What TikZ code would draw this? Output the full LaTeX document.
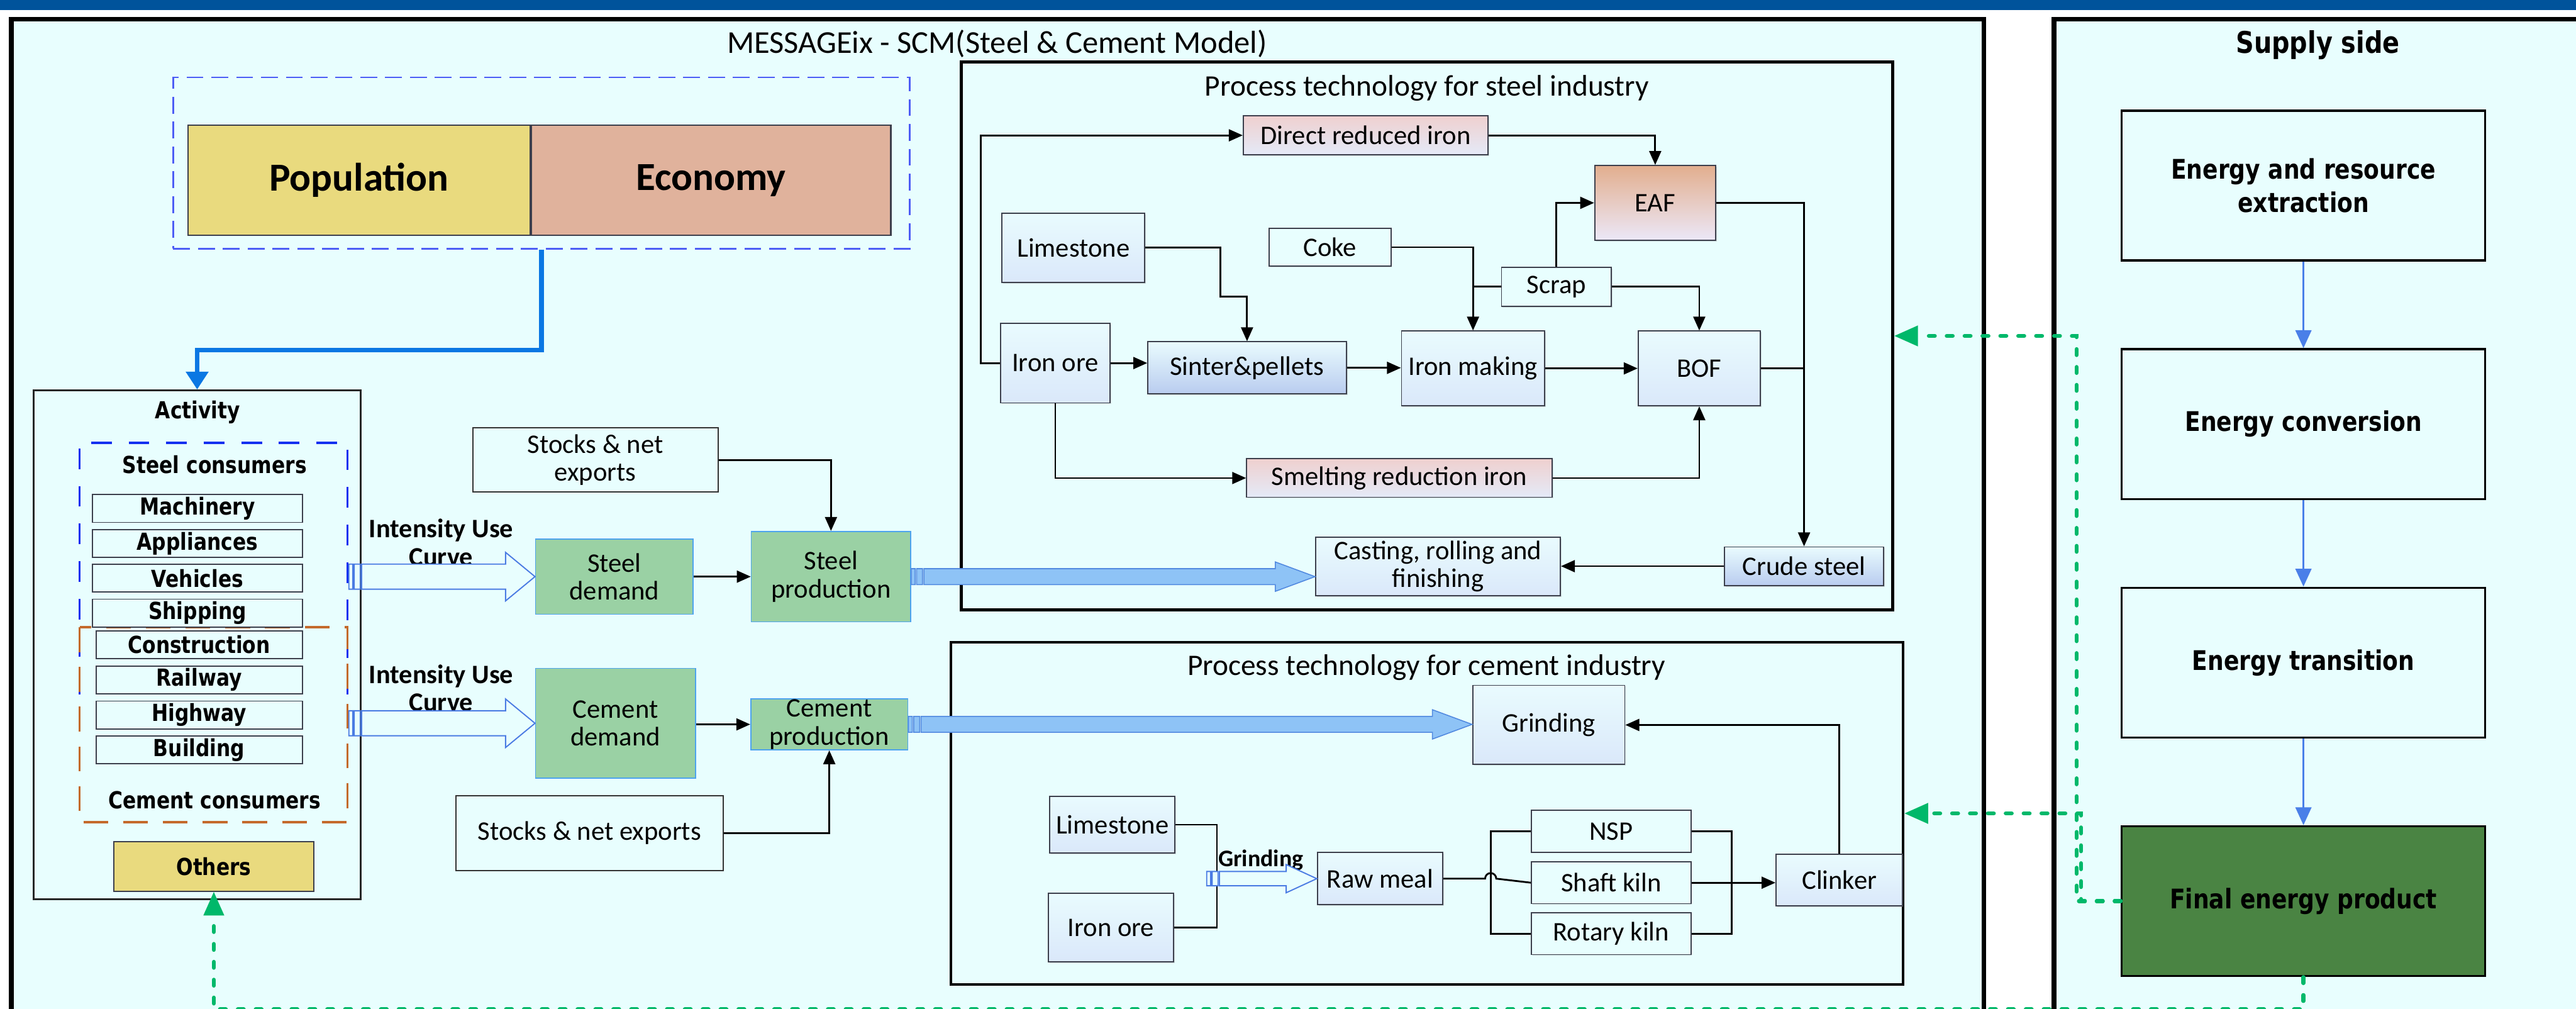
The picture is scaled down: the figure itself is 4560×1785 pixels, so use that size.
\documentclass[tikz,border=0pt]{standalone}
\usepackage{fontspec}
\setmainfont{Carlito}
\newfontfamily\wideface[FakeStretch=0.84]{DejaVu Sans}
\usetikzlibrary{arrows.meta,calc,chains,positioning,scopes,shadows}

\definecolor{panelfill}{HTML}{E8FEFE}
\definecolor{bandblue}{HTML}{00539B}
\definecolor{popyellow}{HTML}{E9DA7E}
\definecolor{econsalmon}{HTML}{E0B29C}
\definecolor{demandgreen}{HTML}{9AD1A4}
\definecolor{demandedge}{HTML}{4DA3EE}
\definecolor{flowblue}{HTML}{8EC3F6}
\definecolor{flowedge}{HTML}{5189E0}
\definecolor{hollowedge}{HTML}{4A7BE3}
\definecolor{finalgreen}{HTML}{4A8443}
\definecolor{feedgreen}{HTML}{00B86A}
\definecolor{popblue}{HTML}{0B77E3}
\definecolor{supplyblue}{HTML}{4A7FE8}
\definecolor{frameblue}{HTML}{4D5DF5}
\definecolor{consumerblue}{HTML}{1530F0}
\definecolor{consumerorange}{HTML}{C46A2C}
\definecolor{procedge}{HTML}{3C3F4C}
\definecolor{procA}{HTML}{E9FBFE}
\definecolor{procB}{HTML}{DAE8FA}
\definecolor{sinterB}{HTML}{B9CCEF}
\definecolor{roseA}{HTML}{EFD0CF}
\definecolor{roseB}{HTML}{E4EAF8}
\definecolor{eafA}{HTML}{E2AE8E}
\definecolor{eafB}{HTML}{ECE8F8}

\tikzset{
    panel/.style = {
        draw,
        line width = 2.3pt,
        fill = panelfill,
        },
    process frame/.style = {
        draw,
        line width = 1.4pt,
        },
    frame title/.style = {
        font = \fontsize{15}{17}\selectfont,
        },
    proc base/.style = {
        draw = procedge,
        line width = 0.6pt,
        drop shadow = {shadow xshift=0.6pt, shadow yshift=-0.6pt, opacity=0.25},
        font = \fontsize{13.5}{14}\selectfont,
        align = center,
        inner sep = 1pt,
        },
    proc/.style = {
        proc base,
        top color = procA,
        bottom color = procB,
        },
    plain proc/.style = {
        proc base,
        fill = panelfill,
        },
    sinter proc/.style = {
        proc base,
        top color = procA,
        bottom color = sinterB,
        },
    rose proc/.style = {
        proc base,
        top color = roseA,
        bottom color = roseB,
        },
    eaf proc/.style = {
        proc base,
        top color = eafA,
        bottom color = eafB,
        },
    driver/.style = {
        draw = procedge,
        line width = 0.7pt,
        minimum height = 1.94cm,
        font = \bfseries\fontsize{20}{24}\selectfont,
        },
    pe frame/.style = {
        draw = frameblue,
        line width = 0.9pt,
        dash pattern = on 8.5pt off 4pt,
        },
    activity box/.style = {
        draw = black!85,
        line width = 0.8pt,
        },
    consumer label/.style = {
        font = \wideface\bfseries\fontsize{11.8}{13}\selectfont,
        },
    consumer blue/.style = {
        draw = consumerblue,
        line width = 1.1pt,
        dash pattern = on 10.4pt off 8.5pt,
        },
    consumer orange/.style = {
        draw = consumerorange,
        line width = 1.1pt,
        dash pattern = on 12.5pt off 7.5pt,
        },
    item/.style = {
        draw = procedge,
        line width = 0.6pt,
        fill = panelfill,
        minimum height = 0.49cm,
        inner sep = 0pt,
        font = \wideface\bfseries\fontsize{11.8}{13}\selectfont,
        },
    demand/.style = {
        draw = demandedge,
        line width = 0.5pt,
        fill = demandgreen,
        align = center,
        inner sep = 0pt,
        font = \fontsize{13.5}{14}\selectfont,
        },
    stock/.style = {
        draw = black!80,
        line width = 0.7pt,
        fill = panelfill,
        align = center,
        font = \fontsize{13.5}{14}\selectfont,
        },
    intensity label/.style = {
        align = center,
        font = \bfseries\fontsize{13.4}{14}\selectfont,
        },
    supply/.style = {
        draw,
        line width = 1.1pt,
        fill = panelfill,
        minimum width = 6.43cm,
        minimum height = 2.65cm,
        align = center,
        font = \wideface\bfseries\fontsize{13.6}{16.8}\selectfont,
        },
    flow/.style = {
        draw,
        line width = 0.9pt,
        -{Triangle[length=7pt, width=6pt]},
        },
    link/.style = {
        draw,
        line width = 0.9pt,
        },
    pop link/.style = {
        draw = popblue,
        line width = 2.3pt,
        -{Triangle[length=9pt, width=11pt]},
        },
    supply link/.style = {
        draw = supplyblue,
        line width = 1pt,
        -{Triangle[length=9pt, width=8pt]},
        },
    feedback/.style = {
        draw = feedgreen,
        line width = 2pt,
        line cap = round,
        dash pattern = on 3pt off 6pt,
        -{Triangle[length=12pt, width=10pt]},
        },
    fat arrow/.style n args = {3}{
        to path = {
            let \p1 = (\tikztostart), \p2 = (\tikztotarget) in
            (\x1, \y1 - #1) rectangle ++(2pt, 2*#1)
            (\x1 + 2.7pt, \y1 - #1) rectangle ++(3pt, 2*#1)
            (\x1 + 6.4pt, \y1 + #1) -- (\x2 - #3, \y1 + #1) -- (\x2 - #3, \y1 + #2)
            -- (\x2, \y1) -- (\x2 - #3, \y1 - #2) -- (\x2 - #3, \y1 - #1)
            -- (\x1 + 6.4pt, \y1 - #1) -- cycle
            },
        },
    fat flow/.style = {
        fat arrow = {4pt}{7.4pt}{20pt},
        fill = flowblue,
        draw = flowedge,
        line width = 0.5pt,
        },
    hollow flow/.style = {
        fat arrow = {6.3pt}{12.2pt}{14.8pt},
        fill = panelfill,
        draw = hollowedge,
        line width = 0.6pt,
        },
    small hollow/.style = {
        fat arrow = {3.6pt}{7.1pt}{15.4pt},
        fill = panelfill,
        draw = hollowedge,
        line width = 0.6pt,
        },
}

\begin{document}
\begin{tikzpicture}[
        x = 0.01cm,
        y = -0.01cm,
        ItemBlock/.style = {item, on chain},
        SupplyBlock/.style = {supply, on chain},
    ]
    \useasboundingbox (0,0) rectangle (4560,1785);
    \clip (0,0) rectangle (4560,1785);
    \fill[white] (0,0) rectangle (4560,1785);
    \fill[bandblue] (0,0) rectangle (4560,18);

    \draw[panel] (20,34) rectangle (3512,1900);
    \draw[panel] (3636,34) rectangle (4620,1900);
    \node[font=\fontsize{16}{18}\selectfont] (modeltitle) at (1765,77) {MESSAGEix - SCM(Steel \& Cement Model)};
    \node[font=\wideface\bfseries\fontsize{15}{17}\selectfont] (supplytitle) at (4103,80) {Supply side};

    % drivers
    \node[pe frame, minimum width=13.03cm, minimum height=3.03cm] (peframe) at (958.5,288.5) {};
    \node[driver, fill=popyellow, minimum width=6.05cm] (population) at (635.5,319) {Population};
    \node[driver, fill=econsalmon, minimum width=6.36cm, right=0pt of population] (economy) {Economy};

    % activity
    \node[activity box, minimum width=5.78cm, minimum height=9cm] (actbox) at (349,1141) {};
    \node[consumer label] (activity) at (350,730) {Activity};
    \draw[consumer blue] (141,1229) |- (615,784) -- (615,1229);
    \draw[consumer orange] (141,1110) rectangle (615,1455);
    \node[consumer label] (steelcons) at (380,822) {Steel consumers};
    \node[consumer label] (cementcons) at (380,1416) {Cement consumers};
    { [start chain = going below, node distance = 0.105cm]
        \node[ItemBlock, minimum width=3.71cm] (machinery) at (349.5,900) {Machinery};
        \node[ItemBlock, minimum width=3.71cm] (appliances) {Appliances};
        \node[ItemBlock, minimum width=3.71cm] (vehicles) {Vehicles};
        \node[ItemBlock, minimum width=3.71cm] (shipping) {Shipping};
    }
    { [start chain = going below, node distance = 0.11cm]
        \node[ItemBlock, minimum width=3.65cm] (construction) at (352.5,1141) {Construction};
        \node[ItemBlock, minimum width=3.65cm] (railway) {Railway};
        \node[ItemBlock, minimum width=3.65cm] (highway) {Highway};
        \node[ItemBlock, minimum width=3.65cm] (building) {Building};
    }
    \node[item, fill=popyellow, minimum width=3.53cm, minimum height=0.87cm] (others) at (378.5,1533.5) {Others};

    % demand and production
    \node[demand, minimum width=2.79cm, minimum height=1.33cm] (steeldem) at (1087.5,1020.5) {Steel\\demand};
    \node[demand, minimum width=2.82cm, minimum height=1.6cm, right=1.01cm of steeldem] (steelprod) {Steel\\production};
    \node[stock, minimum width=4.34cm, minimum height=1.04cm] (stocksteel) at (1054,814) {Stocks \& net\\exports};
    \node[demand, minimum width=2.83cm, minimum height=1.94cm] (cementdem) at (1089.5,1280) {Cement\\demand};
    \node[demand, minimum width=2.78cm, minimum height=0.9cm] (cementprod) at (1468,1282) {Cement\\production};
    \node[stock, minimum width=4.73cm, minimum height=1.33cm] (stockcement) at (1043.5,1474.5) {Stocks \& net exports};
    \node[intensity label] (iucsteel) at (781,960) {Intensity Use\\Curve};
    \node[intensity label] (iuccement) at (781,1218) {Intensity Use\\Curve};

    % steel industry
    \node[process frame, minimum width=16.48cm, minimum height=9.69cm] (steelframe) at (2526,594.5) {};
    \node[frame title] (steeltitle) at (2526,156) {Process technology for steel industry};
    \node[rose proc, minimum width=4.33cm, minimum height=0.69cm] (dri) at (2417.5,239.5) {Direct reduced iron};
    \node[eaf proc, minimum width=2.14cm, minimum height=1.32cm] (eaf) at (2930,359) {EAF};
    \node[proc, minimum width=2.52cm, minimum height=1.23cm] (limestone) at (1900,438.5) {Limestone};
    \node[plain proc, minimum width=2.15cm, minimum height=0.67cm] (coke) at (2354.5,437.5) {Coke};
    \node[plain proc, minimum width=1.94cm, minimum height=0.69cm] (scrap) at (2755,507.5) {Scrap};
    \node[proc, minimum width=1.94cm, minimum height=1.41cm] (ironore) at (1868,642.5) {Iron ore};
    \node[sinter proc, minimum width=3.51cm, minimum height=0.92cm] (sinter) at (2207.5,651) {Sinter\&pellets};
    \node[proc, minimum width=2.53cm, minimum height=1.32cm] (ironmaking) at (2607.5,652) {Iron making};
    \node[proc, minimum width=2.16cm, minimum height=1.32cm] (bof) at (3008,652) {BOF};
    \node[rose proc, minimum width=5.4cm, minimum height=0.68cm] (smelting) at (2477,846) {Smelting reduction iron};
    \node[proc, minimum width=4.33cm, minimum height=1.03cm] (casting) at (2545.5,1002.5) {Casting, rolling and\\finishing};
    \node[sinter proc, minimum width=2.81cm, minimum height=0.68cm] (crude) at (3193.5,1002) {Crude steel};

    % cement industry
    \node[process frame, minimum width=16.84cm, minimum height=6.05cm] (cementframe) at (2526,1439.5) {};
    \node[frame title] (cementtitle) at (2525,1181) {Process technology for cement industry};
    \node[proc, minimum width=2.69cm, minimum height=1.4cm] (grinding) at (2741.5,1283) {Grinding};
    \node[proc, minimum width=2.24cm, minimum height=0.91cm] (clinker) at (3256,1557.5) {Clinker};
    \node[proc, minimum width=2.22cm, minimum height=1.01cm] (limestonec) at (1969,1459.5) {Limestone};
    \node[proc, minimum width=2.21cm, minimum height=1.21cm] (ironorec) at (1966.5,1641.5) {Iron ore};
    \node[proc, minimum width=2.22cm, minimum height=0.92cm] (rawmeal) at (2443,1555) {Raw meal};
    \node[plain proc, minimum width=2.82cm, minimum height=0.74cm] (nsp) at (2852,1471) {NSP};
    \node[plain proc, minimum width=2.82cm, minimum height=0.74cm, below=0.15cm of nsp] (shaftkiln) {Shaft kiln};
    \node[plain proc, minimum width=2.82cm, minimum height=0.74cm, below=0.14cm of shaftkiln] (rotarykiln) {Rotary kiln};
    \node[font=\bfseries\fontsize{12}{14}\selectfont] (grindlabel) at (2232,1522) {Grinding};

    % supply side
    { [start chain = going below, node distance = 1.53cm]
        \node[SupplyBlock] (extraction) at (4077.5,328.5) {Energy and resource\\extraction};
        \node[SupplyBlock] (conversion) {Energy conversion};
        \node[SupplyBlock] (transition) {Energy transition};
        \node[SupplyBlock, fill=finalgreen] (final) {Final energy product};
    }
    \draw[supply link] (extraction.south) -- (conversion.north);
    \draw[supply link] (conversion.south) -- (transition.north);
    \draw[supply link] (transition.south) -- (final.north);

    \draw[pop link] (peframe.south) -- ++(0,178) -| (actbox.north);
    \draw[hollow flow] ($(actbox.east |- steeldem.west)+(-22,0)$) to (steeldem.west);
    \draw[hollow flow] ($(actbox.east |- cementdem.west)+(-22,0)$) to (cementdem.west);
    \draw[flow] (stocksteel.east) -| (steelprod.north);
    \draw[flow] (steeldem.east) -- (steelprod.west);
    \draw[flow] (cementdem.east |- cementprod.west) -- (cementprod.west);
    \draw[flow] (stockcement.east) -| (cementprod.south);
    \draw[fat flow] (steelprod.east) to (casting.west);
    \draw[fat flow] (cementprod.east) to (grinding.west);

    \draw[flow] (ironore.west) -- ++(-34,0) |- (dri.west);
    \draw[flow] (dri.east) -| (eaf.north);
    \draw[flow] (limestone.east) -- ++(133,0) -- ++(0,86.5) -| (sinter.north);
    \draw[flow] (coke.east) -| (ironmaking.north);
    \draw[link] (scrap.west) -- (scrap.west -| ironmaking.north);
    \draw[flow] (scrap.north) |- (eaf.west);
    \draw[flow] (scrap.east) -| (bof.north);
    \draw[flow] (ironore.east) -- (ironore.east -| sinter.west);
    \draw[flow] (sinter.east) -- (sinter.east -| ironmaking.west);
    \draw[flow] (ironmaking.east) -- (bof.west);
    \draw[flow] (ironore.south) |- (smelting.west);
    \draw[flow] (smelting.east) -| (bof.south);
    \draw[flow] (eaf.east) -| (crude.north);
    \draw[link] (bof.east) -- (bof.east -| crude.north);
    \draw[flow] (crude.west) -- (crude.west -| casting.east);

    \draw[flow] (clinker.north) |- (grinding.east);
    \draw[link] (limestonec.east) -- ++(73,0) coordinate (jn) |- (ironorec.east);
    \draw[small hollow] ($(rawmeal.west -| jn)+(-18,0)$) to (rawmeal.west);
    \draw[link] (rawmeal.east) -- ($(rawmeal.east -| nsp.west)+(-81,0)$)
        arc[start angle=180, end angle=0, radius=2.8pt] -- (shaftkiln.west);
    \draw[link] (nsp.west) -- ++(-71,0) |- (rotarykiln.west);
    \draw[link] (nsp.east) -- ++(71,0) |- (rotarykiln.east);
    \draw[flow] (shaftkiln.east) -- (shaftkiln.east -| clinker.west);

    % feedback from final energy
    \draw[feedback] (final.west) -- ++(-78,0) |- (steelframe.east);
    \draw[feedback] (final.west) -- ++(-70,0) |- (cementframe.east);
    \draw[feedback] (final.south) -- ++(0,57) -| (others.south);
\end{tikzpicture}
\end{document}
